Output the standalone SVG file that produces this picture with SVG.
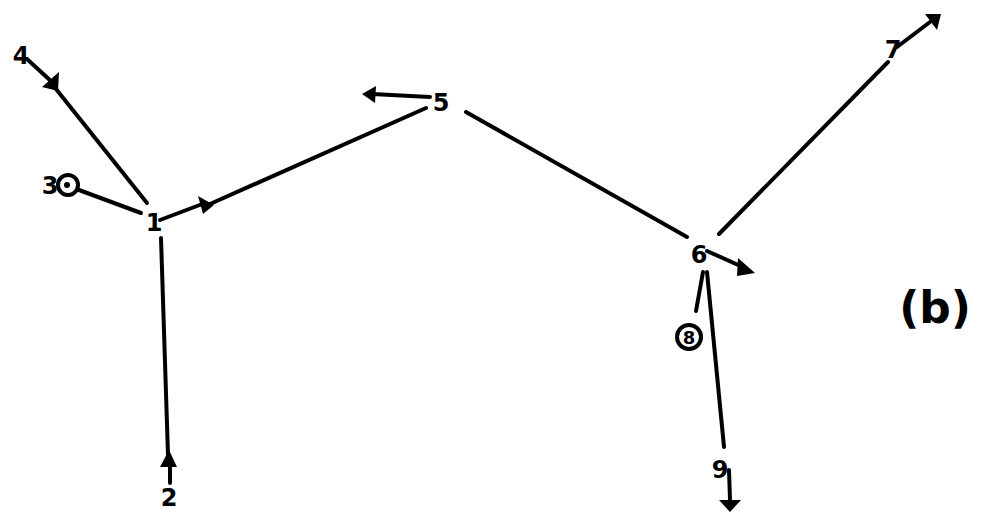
<svg xmlns="http://www.w3.org/2000/svg" width="988" height="515" viewBox="0 0 988 515">
<defs>
<style>
.e{stroke:#000;stroke-width:4;fill:none;stroke-linecap:round}
.t{font-family:"DejaVu Sans",sans-serif;font-size:24px;font-weight:bold;fill:#000;text-anchor:middle}
.c{stroke:#000;stroke-width:4;fill:#fff}
</style>
</defs>
<rect width="988" height="515" fill="#fff"/>
<g id="connectors">
<line class="e" x1="28" y1="60" x2="52" y2="82"/>
<path d="M59,72 L58,91 L42,87 Z" fill="#000"/>
<line class="e" x1="52" y1="84" x2="147" y2="203"/>
<line class="e" x1="79" y1="190" x2="141" y2="213"/>
<line class="e" x1="160" y1="220" x2="205" y2="203"/>
<path d="M198,196 L214,205 L203,214 Z" fill="#000"/>
<line class="e" x1="210" y1="204" x2="426" y2="108"/>
<line class="e" x1="430" y1="97" x2="372" y2="94"/>
<path d="M376,86 L362,94 L375,103 Z" fill="#000"/>
<line class="e" x1="466" y1="112" x2="687" y2="237"/>
<line class="e" x1="707" y1="251" x2="745" y2="268"/>
<path d="M738,258 L755,273 L737,276 Z" fill="#000"/>
<line class="e" x1="719" y1="234" x2="888" y2="62"/>
<line class="e" x1="897" y1="47" x2="930" y2="22"/>
<path d="M925,14 L941,14 L937,30 Z" fill="#000"/>
<line class="e" x1="703" y1="272" x2="696" y2="311"/>
<line class="e" x1="707" y1="272" x2="724" y2="447"/>
<line class="e" x1="729" y1="470" x2="730" y2="500"/>
<path d="M719,500 L741,500 L730,512 Z" fill="#000"/>
<line class="e" x1="161" y1="238" x2="168" y2="455"/>
<path d="M160,467 L177,467 L169,450 Z" fill="#000"/>
<line class="e" x1="170" y1="467" x2="170" y2="483"/>
</g>
<g id="node1"><text class="t" x="154" y="231">1</text></g>
<g id="node2"><text class="t" x="169" y="506">2</text></g>
<g id="node3"><text class="t" x="50" y="194">3</text><circle class="c" cx="68" cy="185" r="10"/><circle cx="67" cy="185" r="3" fill="#000"/></g>
<g id="node4"><text class="t" x="21" y="64">4</text></g>
<g id="node5"><text class="t" x="441" y="111">5</text></g>
<g id="node6"><text class="t" x="699" y="263">6</text></g>
<g id="node7"><text class="t" x="893" y="58">7</text></g>
<g id="node8"><circle class="c" cx="689" cy="337" r="12"/><text class="t" x="689" y="344" style="font-size:18px">8</text></g>
<g id="node9"><text class="t" x="720" y="478">9</text></g>
<g id="caption"><text x="935" y="323" style="font-family:'DejaVu Sans',sans-serif;font-size:44px;font-weight:bold;text-anchor:middle">(b)</text></g>
</svg>
